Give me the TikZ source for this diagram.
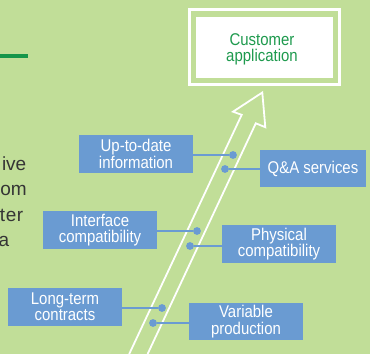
\documentclass[tikz,border=0pt]{standalone}
\usepackage{fontspec}
\setmainfont{Liberation Sans}
\newfontfamily\condf[FakeStretch=0.88]{Liberation Sans}
\definecolor{bg}{HTML}{C1DE98}
\definecolor{boxblue}{HTML}{6A9BD2}
\definecolor{ngreen}{HTML}{1E9A4E}
\definecolor{lgreen}{HTML}{15964A}
\definecolor{bodytext}{HTML}{353535}
\tikzset{
 infobox/.style={fill=boxblue, text=white, minimum width=114pt, minimum height=38pt, inner sep=0pt, align=center, font=\condf\fontsize{17}{16.3}\selectfont},
 link/.style={draw=boxblue, line width=2.6pt},
 dotnode/.style={circle, fill=boxblue, minimum size=7.8pt, inner sep=0pt},
 arrowline/.style={draw=white, line width=1.8pt, line join=miter},
 bodyfrag/.style={anchor=base east, inner sep=0pt, text=bodytext, font=\fontsize{19}{23}\selectfont},
}
\begin{document}
\begin{tikzpicture}[x=1pt,y=-1pt]
\fill[bg] (0,0) rectangle (370,354);
\useasboundingbox (0,0) rectangle (370,354);
% green rule
\fill[lgreen] (0,54.3) rectangle (27.7,57.7);
% clipped body text fragments
\node[bodyfrag] (f1) at (26.5,170) {ive};
\node[bodyfrag] (f2) at (27,195.5) {om};
\node[bodyfrag] (f3) at (23.5,221) {t\kern0.6pt e\kern0.6pt r};
\node[bodyfrag] (f4) at (9.5,246.5) {a};
% customer box
\draw[white, line width=2.7pt] (189.5,9.7) rectangle (339.7,84.7);
\node[fill=white, minimum width=137pt, minimum height=61pt, inner sep=0pt] (cust) at (264.5,47.2) {};
\node[text=ngreen, align=center, inner sep=0pt, font=\condf\fontsize{17}{16.3}\selectfont] (custlabel) at (262,49) {Customer\\application};
% hollow arrow
\draw[arrowline] (129.2,354) -- (241.7,114.8) -- (233,111.7) -- (262.3,92.5) -- (265.3,127.2) -- (255.8,123.3) -- (147.6,354);
% boxes
\node[infobox] (upd) at (136,154) {Up-to-date\\information};
\node[infobox, minimum width=106pt, minimum height=37pt] (qa) at (313,168.5) {Q\&A services};
\node[infobox] (intf) at (100,230) {Interface\\compatibility};
\node[infobox] (phys) at (279,244) {Physical\\compatibility};
\node[infobox] (ltc) at (65,307) {Long-term\\contracts};
\node[infobox, minimum height=37pt] (var) at (246,321.5) {Variable\\production};
% dots
\node[dotnode] (d1) at (233,155) {};
\node[dotnode] (d2) at (225,169) {};
\node[dotnode] (d3) at (197,231) {};
\node[dotnode] (d4) at (190,246) {};
\node[dotnode] (d5) at (162,308) {};
\node[dotnode] (d6) at (153,323) {};
% connectors
\draw[link] (upd.east |- d1) -- (d1);
\draw[link] (d2) -- (qa.west |- d2);
\draw[link] (intf.east |- d3) -- (d3);
\draw[link] (d4) -- (phys.west |- d4);
\draw[link] (ltc.east |- d5) -- (d5);
\draw[link] (d6) -- (var.west |- d6);
\end{tikzpicture}
\end{document}
